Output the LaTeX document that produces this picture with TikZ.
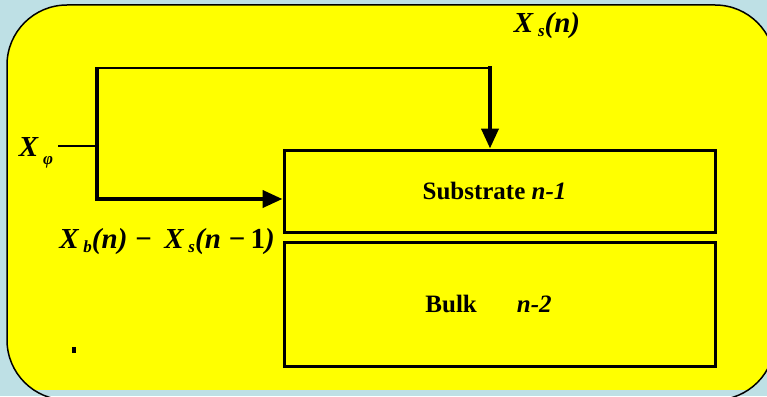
\documentclass[tikz,border=0pt]{standalone}
\usepackage{fontspec}
\setmainfont{Liberation Serif}
\usepackage{tikz}
\usetikzlibrary{arrows.meta, positioning, calc}
\definecolor{mysky}{RGB}{190,224,229}
\definecolor{myyellow}{RGB}{255,255,0}
\definecolor{mydark}{RGB}{0,0,0}
\newcommand{\sbx}[1]{\raisebox{-4pt}{\fontsize{17}{18}\selectfont #1}}
\tikzset{
  layerbox/.style={rectangle, draw=mydark, line width=3pt, fill=none,
    font=\fontsize{25}{28}\selectfont\bfseries, inner sep=0pt},
  lbl/.style={font=\fontsize{29}{31}\selectfont\bfseries\itshape, inner sep=0pt},
  arrow/.style={-{Triangle[length=20pt,width=17pt]}, line width=4pt, color=mydark},
  line/.style={line width=3.5pt, color=mydark}
}

\begin{document}
\begin{tikzpicture}[x=1pt, y=-1pt]
  \useasboundingbox (0,0) rectangle (767,396);
  \clip (0,0) rectangle (767,396);
  % Background and rounded panel
  \fill[mysky] (0,0) rectangle (767,396);
  \begin{scope}
    \clip (0,0) rectangle (767,389.5);
    \fill[myyellow, rounded corners=60pt] (7,5) rectangle (775,400);
  \end{scope}
  \draw[line width=1.5pt, rounded corners=60pt] (7,5) rectangle (775,400);

  % Layers
  \node[layerbox, minimum width=431pt, minimum height=82pt] (sub) at (499.5,191)
    {Substrate \textit{n-1}\kern10pt\relax};
  \node[layerbox, minimum width=431pt, minimum height=124pt] (bulk) at (499.5,304)
    {Bulk\hspace{40pt}\textit{n-2}\kern22pt\relax};

  % Labels
  \node[lbl] (xs) at (547,26) {X\,\sbx{s}(n)};
  \node[lbl] (xphi) at (36,153) {X\,\sbx{\raisebox{-4pt}{φ}}};
  \node[lbl] (xdiff) at (167,242) {X\,\sbx{b}(n) −\, X\,\sbx{s}(n −\,\textup{1})};
  \node[fill=mydark, minimum width=4pt, minimum height=6pt, inner sep=0pt] (dot) at (74,350) {};

  % Feed paths
  \coordinate (split) at (97,146);
  \coordinate (topl) at (97,68);
  \coordinate (topr) at (490,68);
  \coordinate (botl) at (97,199);
  \draw[line, line width=2.5pt] (58,146) -- (split);
  \draw[line, line width=2.5pt] ($(topl)+(-1.75,0)$) -- (topr);
  \draw[arrow, line cap=rect] (topr) -- (topr |- sub.north);
  \draw[line] (topl) -- (botl);
  \draw[arrow] ($(botl)+(-1.75,0)$) -- (botl -| sub.west);
\end{tikzpicture}
\end{document}
